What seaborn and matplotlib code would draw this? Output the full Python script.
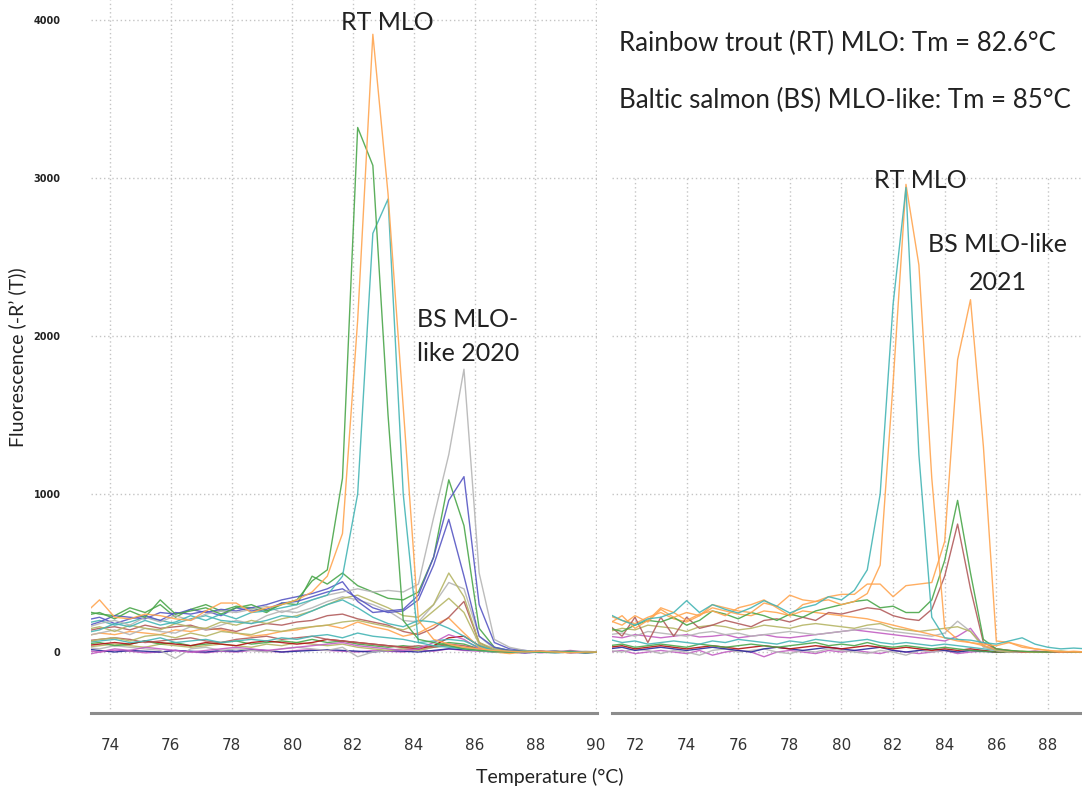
import numpy as np
import pandas as pd
import matplotlib
matplotlib.use("Agg")
import matplotlib.pyplot as plt
import seaborn as sns

# ---------------- data ----------------
# Left panel: temperature grid (°C)
LEFT_T = [73.15, 73.65, 74.15, 74.65, 75.15, 75.65, 76.15, 76.65, 77.15, 77.65,
          78.15, 78.65, 79.15, 79.65, 80.15, 80.65, 81.15, 81.65, 82.15, 82.65,
          83.15, 83.65, 84.15, 84.65, 85.15, 85.65, 86.15, 86.65, 87.15, 87.65,
          88.15, 88.65, 89.15, 89.65, 90.15]

L_PURPLE_LOW = [-20, 0, 10, 5, -5, 0, 10, 0, -5, 5, 0, 10, 5, 0, 10, 15, 10, 5, 0, 10, 5, 0, 15, 5, 20, 10, 5, 0, 0, -5, 0, 5, -5, 0, 0]
L_DARKBLUE = [20, 10, 0, 10, 5, 0, 10, 5, 0, 10, 5, 15, 10, 0, 5, 10, 15, 10, 5, 0, 10, 5, 0, 10, 20, 15, 10, 5, 0, -5, 0, 5, 0, -5, 0]
L_GRAY_LOW = [30, 20, 40, 30, 20, 10, -40, 20, 30, 10, 20, 10, 0, 20, 30, 20, 10, 30, -30, 0, 10, 20, 10, 30, 40, 20, 10, 0, 5, 0, 0, -5, 0, 5, 0]
L_OLIVE_LOW = [30, 40, 50, 40, 30, 50, 40, 30, 40, 50, 40, 30, 50, 40, 60, 50, 40, 50, 30, 20, 10, 20, 10, 30, 40, 30, 10, 0, 0, 0, 0, 0, 0, 0, 0]
L_GREEN_LOW = [50, 60, 40, 50, 70, 50, 60, 40, 50, 60, 70, 50, 60, 70, 60, 80, 60, 70, 50, 40, 30, 40, 30, 40, 60, 50, 20, 10, 0, 5, 0, 0, 0, 0, 0]
L_DARKRED = [40, 50, 60, 50, 70, 60, 50, 40, 60, 50, 40, 60, 70, 60, 50, 60, 80, 70, 60, 50, 40, 30, 20, 40, 90, 100, 40, 10, 0, 0, 5, 0, 0, 0, 0]
L_MAROON = [70, 80, 90, 80, 60, 70, 80, 90, 70, 60, 80, 90, 100, 80, 90, 100, 80, 70, 60, 50, 40, 30, 40, 30, 50, 40, 20, 0, 0, 0, 0, 0, 0, 0, 0]
L_PURPLE = [10, 0, 20, 10, 30, 20, 10, 0, 10, 20, 30, 20, 10, 20, 30, 40, 50, 60, 40, 30, 20, 10, 20, 60, 110, 80, 20, 10, 0, 5, -5, 0, 10, 0, 0]
L_CYAN_LOW = [60, 70, 80, 60, 70, 90, 60, 70, 80, 60, 70, 80, 70, 90, 80, 100, 110, 90, 120, 100, 90, 80, 60, 70, 80, 70, 30, 10, 0, 5, 0, 0, 0, 0, 0]
L_ORANGE_LOW = [100, 120, 110, 130, 120, 110, 140, 130, 150, 140, 120, 100, 110, 130, 140, 160, 170, 150, 190, 160, 140, 100, 120, 170, 215, 120, 30, 0, -10, 0, 0, 0, 0, 0, 0]
L_BROWN = [130, 150, 160, 140, 170, 150, 160, 170, 140, 150, 130, 160, 180, 170, 190, 200, 230, 240, 210, 190, 170, 130, 110, 150, 220, 320, 60, 10, 0, 5, 0, 0, 0, 0, 0]
L_OLIVE_2 = [60, 80, 90, 70, 100, 110, 90, 120, 100, 130, 120, 110, 140, 130, 150, 160, 170, 190, 200, 180, 160, 140, 180, 260, 340, 250, 50, 10, 0, 0, 5, 0, 0, 0, 0]
L_GRAY_2 = [100, 120, 140, 110, 150, 130, 120, 160, 140, 170, 200, 180, 230, 260, 250, 280, 320, 350, 330, 300, 260, 200, 190, 300, 440, 400, 100, 20, 5, 0, 0, -5, 0, 0, 0]
L_OLIVE = [140, 160, 130, 170, 150, 140, 180, 160, 150, 190, 170, 200, 180, 210, 230, 260, 300, 340, 360, 320, 280, 230, 220, 300, 500, 350, 60, 20, 10, 0, 0, 5, 0, 0, 0]
L_CYAN_MID = [180, 200, 170, 190, 220, 200, 180, 210, 230, 200, 190, 180, 200, 230, 220, 260, 300, 330, 280, 220, 180, 160, 200, 190, 150, 100, 40, 10, 0, 0, 0, 0, 0, 0, 0]
L_GREEN_BS = [260, 240, 230, 280, 250, 300, 220, 270, 300, 260, 290, 280, 250, 310, 300, 480, 430, 500, 420, 380, 340, 330, 380, 600, 1090, 800, 150, 30, 10, 5, 0, 0, 5, 0, 0]
L_BLUE_BS2 = [200, 220, 180, 210, 230, 200, 250, 240, 260, 230, 280, 260, 270, 310, 320, 350, 380, 400, 340, 280, 250, 260, 330, 550, 840, 480, 100, 30, 10, 0, 5, 0, 0, -5, 0]
L_BLUE_BS = [160, 190, 230, 220, 210, 250, 240, 270, 250, 270, 260, 280, 300, 330, 350, 370, 400, 445, 320, 250, 260, 270, 360, 600, 960, 1110, 300, 60, 20, 10, 0, 5, -5, 0, 0]
L_GRAY_BS = [150, 180, 200, 170, 220, 190, 230, 200, 240, 260, 250, 270, 290, 250, 280, 330, 360, 380, 400, 380, 390, 380, 430, 850, 1250, 1790, 500, 80, 30, 10, 0, 5, 0, 0, 0]
L_CYAN_RT = [120, 140, 180, 160, 200, 170, 190, 230, 200, 240, 210, 250, 260, 280, 300, 330, 360, 480, 1000, 2650, 2867, 1000, 60, 40, 30, 20, 10, 0, 5, 0, 0, -5, 0, 0, 0]
L_GREEN_RT = [230, 250, 210, 260, 220, 330, 240, 260, 280, 240, 280, 300, 260, 300, 330, 450, 520, 1100, 3320, 3080, 1500, 200, 80, 60, 40, 20, 10, 5, 0, 5, 0, 0, 0, -5, 0]
L_ORANGE_RT = [240, 330, 220, 210, 240, 230, 210, 200, 260, 310, 310, 250, 280, 300, 330, 380, 480, 750, 2100, 3910, 2900, 1550, 200, 80, 50, 30, 20, 10, 5, 0, 5, 0, -5, 0, 0]

# Right panel: temperature grid (°C)
RIGHT_T = [71.0, 71.5, 72.0, 72.5, 73.0, 73.5, 74.0, 74.5, 75.0, 75.5,
           76.0, 76.5, 77.0, 77.5, 78.0, 78.5, 79.0, 79.5, 80.0, 80.5,
           81.0, 81.5, 82.0, 82.5, 83.0, 83.5, 84.0, 84.5, 85.0, 85.5,
           86.0, 86.5, 87.0, 87.5, 88.0, 88.5, 89.0, 89.5]

R_PURPLE_LOW = [0, 10, -10, 0, 10, 0, -10, 10, -20, 0, 10, 0, -30, 0, 10, 0, -10, 10, 0, 10, 0, -10, 10, 0, -10, 0, 10, -10, 0, 5, 0, 0, 0, 0, 0, 0, 0, 0]
R_GRAY_LOW = [10, 0, 20, 10, -10, 10, 0, -20, 10, 20, 0, 10, 20, 0, -10, 10, 0, 20, 10, 0, -10, 10, 0, -20, 10, 0, 10, 0, 10, 0, 5, 0, 0, 0, 0, 0, 0, 0]
R_DARKBLUE = [20, 30, 10, 20, 30, 20, 10, 20, 30, 20, 10, 0, 20, 30, 20, 10, 20, 30, 20, 10, 20, 30, 10, 0, 10, 20, 10, 0, 10, 5, 0, 5, 0, 0, 0, 0, 0, 0]
R_DARKRED = [30, 40, 20, 30, 40, 30, 20, 30, 40, 30, 20, 30, 40, 30, 20, 30, 40, 30, 20, 30, 40, 30, 20, 30, 20, 10, 20, 10, 20, 10, 0, 0, 0, 0, 0, 0, 0, 0]
R_GREEN_LOW = [40, 50, 30, 40, 50, 40, 30, 50, 40, 30, 40, 50, 40, 30, 40, 50, 60, 40, 50, 40, 60, 40, 30, 40, 30, 20, 30, 20, 10, 5, 0, 0, 0, 0, 0, 0, 0, 0]
R_CYAN_LOW = [80, 60, 70, 50, 60, 70, 60, 50, 70, 60, 80, 70, 60, 50, 70, 60, 80, 70, 60, 70, 80, 60, 50, 60, 50, 40, 50, 40, 30, 20, 10, 0, 0, 0, 0, 0, 0, 0]
R_PURPLE = [100, 90, 110, 100, 90, 100, 110, 95, 100, 110, 90, 100, 110, 95, 90, 100, 110, 120, 130, 140, 130, 120, 110, 100, 90, 80, 70, 100, 150, 40, 10, 0, 0, 5, 0, 0, 0, 0]
R_GRAY = [110, 120, 100, 130, 120, 110, 100, 120, 130, 110, 120, 100, 110, 120, 130, 120, 110, 120, 130, 140, 150, 140, 130, 120, 110, 100, 120, 195, 130, 30, 10, 0, 0, 0, 0, 0, 0, 0]
R_OLIVE = [130, 150, 140, 170, 160, 150, 130, 160, 170, 160, 140, 150, 170, 160, 150, 170, 180, 170, 160, 150, 170, 180, 150, 140, 130, 140, 150, 160, 130, 40, 10, 0, 5, 0, 0, 0, 0, 0]
R_ORANGE_3 = [230, 200, 180, 220, 250, 210, 190, 230, 280, 260, 240, 230, 260, 250, 230, 260, 250, 240, 230, 220, 210, 190, 170, 150, 130, 110, 90, 70, 60, 40, 20, 10, 0, 0, 0, 0, 0, 0]
R_BROWN_BS = [170, 100, 220, 60, 220, 100, 220, 150, 170, 200, 180, 160, 200, 210, 190, 220, 200, 250, 240, 260, 280, 270, 230, 210, 200, 270, 480, 810, 400, 60, 20, 10, 0, 5, 0, 0, 0, 0]
R_GREEN_BS = [150, 130, 170, 200, 190, 220, 170, 200, 260, 240, 210, 250, 230, 200, 240, 220, 260, 280, 300, 320, 330, 280, 290, 250, 250, 330, 580, 960, 500, 80, 20, 10, 5, 0, 0, 5, 0, 0]
R_ORANGE_BS = [200, 170, 230, 190, 270, 220, 250, 230, 300, 280, 260, 250, 310, 290, 360, 330, 320, 350, 365, 365, 430, 430, 350, 420, 430, 440, 700, 1850, 2230, 1300, 70, 60, 40, 20, 10, 0, 5, 0]
R_ORANGE_RT = [180, 230, 150, 200, 280, 250, 200, 240, 260, 230, 280, 300, 330, 280, 230, 300, 320, 330, 300, 320, 370, 550, 1700, 2960, 2450, 1100, 150, 80, 60, 50, 40, 60, 30, 20, 10, 5, 0, 0]
R_CYAN_RT = [240, 200, 170, 210, 220, 250, 325, 250, 300, 270, 247, 280, 325, 290, 247, 280, 300, 350, 330, 390, 520, 1000, 2200, 2940, 1250, 220, 90, 80, 75, 60, 50, 70, 90, 50, 30, 20, 25, 20]

# ---------------- styling ----------------
ORANGE = "#ffa550"
GREEN = "#4aa64a"
CYAN = "#45b5b5"
GRAY = "#b5b5b5"
BLUE = "#5757c4"
OLIVE = "#b5b565"
BROWN = "#b25c5c"
PURPLE = "#c25ec2"
DARKRED = "#b01010"
DARKBLUE = "#2a2a9a"

LEFT_SERIES = [
    ("purple_low", L_PURPLE_LOW, PURPLE), ("darkblue", L_DARKBLUE, DARKBLUE),
    ("gray_low", L_GRAY_LOW, GRAY), ("olive_low", L_OLIVE_LOW, OLIVE),
    ("green_low", L_GREEN_LOW, GREEN), ("darkred", L_DARKRED, DARKRED),
    ("maroon", L_MAROON, BROWN), ("purple", L_PURPLE, PURPLE),
    ("cyan_low", L_CYAN_LOW, CYAN), ("orange_low", L_ORANGE_LOW, ORANGE),
    ("brown", L_BROWN, BROWN), ("olive2", L_OLIVE_2, OLIVE),
    ("gray2", L_GRAY_2, GRAY), ("olive", L_OLIVE, OLIVE),
    ("cyan_mid", L_CYAN_MID, CYAN), ("green_bs", L_GREEN_BS, GREEN),
    ("blue_bs2", L_BLUE_BS2, BLUE), ("blue_bs", L_BLUE_BS, BLUE),
    ("gray_bs", L_GRAY_BS, GRAY), ("cyan_rt", L_CYAN_RT, CYAN),
    ("green_rt", L_GREEN_RT, GREEN), ("orange_rt", L_ORANGE_RT, ORANGE),
]
RIGHT_SERIES = [
    ("purple_low", R_PURPLE_LOW, PURPLE), ("gray_low", R_GRAY_LOW, GRAY),
    ("darkblue", R_DARKBLUE, DARKBLUE), ("darkred", R_DARKRED, DARKRED),
    ("green_low", R_GREEN_LOW, GREEN), ("cyan_low", R_CYAN_LOW, CYAN),
    ("purple", R_PURPLE, PURPLE), ("gray", R_GRAY, GRAY),
    ("olive", R_OLIVE, OLIVE), ("orange3", R_ORANGE_3, ORANGE),
    ("brown_bs", R_BROWN_BS, BROWN), ("green_bs", R_GREEN_BS, GREEN),
    ("orange_bs", R_ORANGE_BS, ORANGE), ("orange_rt", R_ORANGE_RT, ORANGE),
    ("cyan_rt", R_CYAN_RT, CYAN),
]

sns.set_theme(style="white")
plt.rcParams["font.family"] = ["Lato", "DejaVu Sans"]

W, H = 1082, 790
fig = plt.figure(figsize=(W / 100, H / 100), dpi=100)
fig.patch.set_facecolor("white")


def rect(x0, y0, x1, y1):
    return [x0 / W, 1 - y1 / H, (x1 - x0) / W, (y1 - y0) / H]


def draw_panel(ax, temps, series):
    rows = []
    for name, vals, _ in series:
        for t, v in zip(temps, vals):
            rows.append((name, t, v))
    df = pd.DataFrame(rows, columns=["curve", "T", "F"])
    pal = {name: col for name, _, col in series}
    sns.lineplot(data=df, x="T", y="F", hue="curve", hue_order=[s[0] for s in series],
                 palette=pal, estimator=None, sort=False, legend=False,
                 linewidth=1.0, alpha=0.9, ax=ax)


def style_axis(ax, xlim, ylim, xmaj, xmin_ticks, show_ylabels):
    ax.set_facecolor("white")
    for s in ["top", "right", "left"]:
        ax.spines[s].set_visible(False)
    ax.spines["bottom"].set_color("#8c8c8c")
    ax.spines["bottom"].set_linewidth(2.2)
    ax.set_xticks(xmaj)
    ax.set_xticks(xmin_ticks, minor=True)
    ax.set_yticks([0, 1000, 2000, 3000, 4000])
    ax.tick_params(axis="x", which="both", direction="inout", length=6, width=1.2,
                   color="#6e6e6e", labelsize=11, labelcolor="#333333", pad=15)
    ax.tick_params(axis="y", length=0, labelsize=7, pad=22, labelcolor="#222222")
    for lab in ax.get_xticklabels():
        lab.set_fontfamily("DejaVu Sans")
    if show_ylabels:
        ax.set_yticklabels(["0", "1000", "2000", "3000", "4000"])
        for lab in ax.get_yticklabels():
            lab.set_fontfamily("DejaVu Sans")
            lab.set_fontweight("bold")
    else:
        ax.set_yticklabels([])
    ax.grid(True, which="major", color="#c4c4c4", linewidth=1.0,
            linestyle=(0, (1, 2)))
    ax.set_xlabel("")
    ax.set_ylabel("")
    # limits last, so the tick setters cannot widen them
    ax.set_xlim(*xlim)
    ax.set_ylim(*ylim)


axL = fig.add_axes(rect(91, 0, 597, 713))
draw_panel(axL, LEFT_T, LEFT_SERIES)
style_axis(axL, (73.37, 90.03), (-386, 4127), list(range(74, 91, 2)),
           list(range(74, 91, 1)), True)

axR = fig.add_axes(rect(612, 176, 1082, 713))
draw_panel(axR, RIGHT_T, RIGHT_SERIES)
style_axis(axR, (71.11, 89.32), (-386, 3013), list(range(72, 89, 2)),
           list(range(72, 90, 1)), False)


def ftext(x, y, s, **kw):
    fig.text(x / W, 1 - y / H, s, **kw)


ANN = 18
ftext(550, 777, "Temperature (°C)", ha="center", va="center", fontsize=14, color="#222222")
ftext(17, 357, "Fluorescence (-R\u2019 (T))", ha="center", va="center", rotation=90,
      fontsize=14, color="#222222")
ftext(387, 22, "RT MLO", ha="center", va="center", fontsize=ANN, color="#222222")
ftext(417, 320, "BS MLO-", ha="left", va="center", fontsize=ANN, color="#222222")
ftext(417, 354, "like 2020", ha="left", va="center", fontsize=ANN, color="#222222")
ftext(920, 180, "RT MLO", ha="center", va="center", fontsize=ANN, color="#222222")
ftext(998, 245, "BS MLO-like", ha="center", va="center", fontsize=ANN, color="#222222")
ftext(998, 283, "2021", ha="center", va="center", fontsize=ANN, color="#222222")
ftext(619, 43, "Rainbow trout (RT) MLO: Tm = 82.6°C", ha="left", va="center",
      fontsize=18.6, color="#222222")
ftext(619, 100, "Baltic salmon (BS) MLO-like: Tm = 85°C", ha="left", va="center",
      fontsize=18.6, color="#222222")

fig.savefig("out.png", dpi=100, facecolor="white")
